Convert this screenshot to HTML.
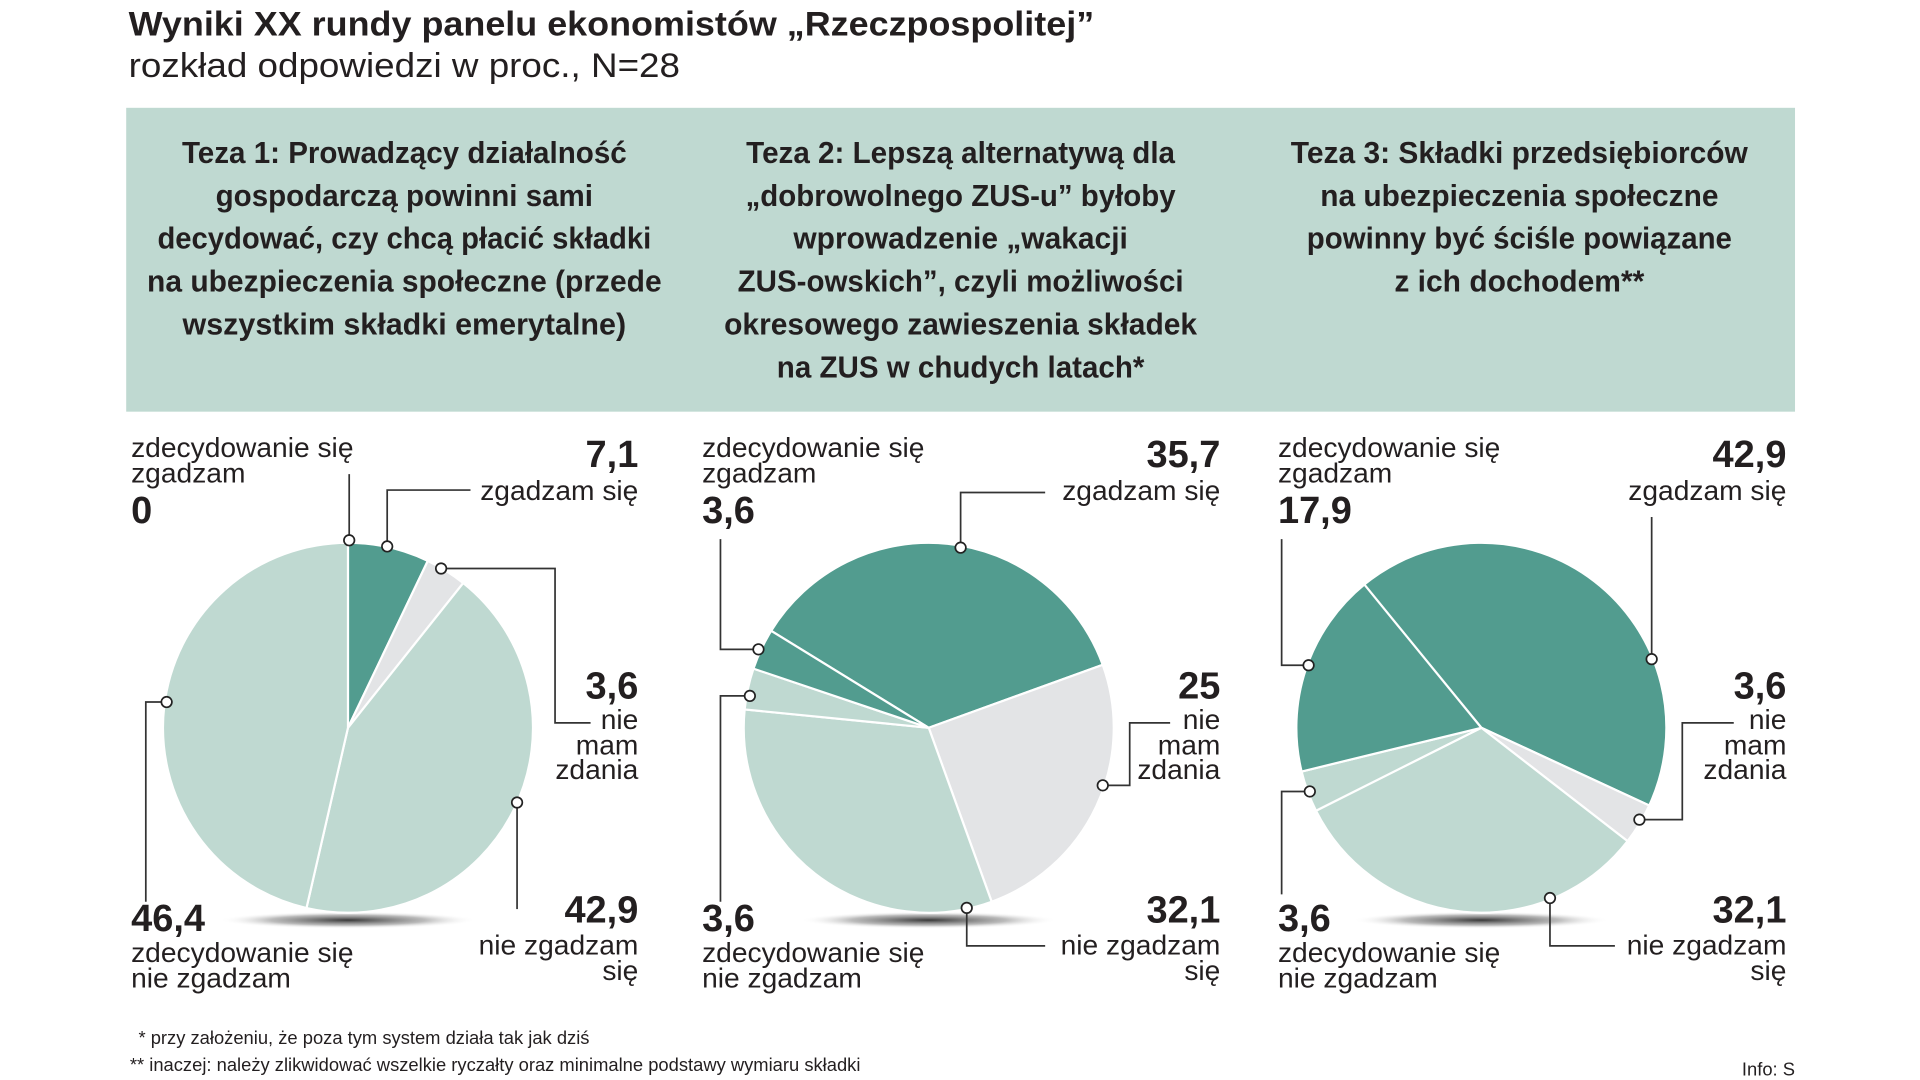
<!DOCTYPE html>
<html><head><meta charset="utf-8"><style>
html,body{margin:0;padding:0;background:#fff;}
svg{display:block;}
text{font-family:"Liberation Sans",sans-serif;fill:#231f20;}
.b{font-weight:bold;}
.lbl{font-size:23px;}
.num{font-size:31px;font-weight:bold;}
.th{font-size:25px;font-weight:bold;}
</style></head><body>
<svg id="chart" width="1920" height="1080" viewBox="0 0 1567 881.5" preserveAspectRatio="none" xmlns="http://www.w3.org/2000/svg">
<defs>
<radialGradient id="sh" cx="0.5" cy="0.5" r="0.5">
<stop offset="0" stop-color="#222" stop-opacity="0.9"/>
<stop offset="0.6" stop-color="#555" stop-opacity="0.4"/>
<stop offset="1" stop-color="#fff" stop-opacity="0"/>
</radialGradient>
</defs>
<text x="105" y="29" class="b" font-size="28" textLength="788" lengthAdjust="spacingAndGlyphs">Wyniki XX rundy panelu ekonomistów „Rzeczpospolitej”</text>
<text x="105" y="63" font-size="28" textLength="450" lengthAdjust="spacingAndGlyphs" fill="#333">rozkład odpowiedzi w proc., N=28</text>
<rect x="103" y="88" width="1362" height="248" fill="#bfd9d1"/>
<g class="th" text-anchor="middle">
<text x="330" y="133" textLength="363" lengthAdjust="spacingAndGlyphs">Teza 1: Prowadzący działalność</text>
<text x="330" y="168" textLength="308" lengthAdjust="spacingAndGlyphs">gospodarczą powinni sami</text>
<text x="330" y="203" textLength="403" lengthAdjust="spacingAndGlyphs">decydować, czy chcą płacić składki</text>
<text x="330" y="238" textLength="420" lengthAdjust="spacingAndGlyphs">na ubezpieczenia społeczne (przede</text>
<text x="330" y="273" textLength="362" lengthAdjust="spacingAndGlyphs">wszystkim składki emerytalne)</text>
</g>
<g class="th" text-anchor="middle">
<text x="784" y="133" textLength="350" lengthAdjust="spacingAndGlyphs">Teza 2: Lepszą alternatywą dla</text>
<text x="784" y="168" textLength="351" lengthAdjust="spacingAndGlyphs">„dobrowolnego ZUS-u” byłoby</text>
<text x="784" y="203" textLength="273" lengthAdjust="spacingAndGlyphs">wprowadzenie „wakacji</text>
<text x="784" y="238" textLength="364" lengthAdjust="spacingAndGlyphs">ZUS-owskich”, czyli możliwości</text>
<text x="784" y="273" textLength="386" lengthAdjust="spacingAndGlyphs">okresowego zawieszenia składek</text>
<text x="784" y="308" textLength="300" lengthAdjust="spacingAndGlyphs">na ZUS w chudych latach*</text>
</g>
<g class="th" text-anchor="middle">
<text x="1240" y="133" textLength="373" lengthAdjust="spacingAndGlyphs">Teza 3: Składki przedsiębiorców</text>
<text x="1240" y="168" textLength="325" lengthAdjust="spacingAndGlyphs">na ubezpieczenia społeczne</text>
<text x="1240" y="203" textLength="347" lengthAdjust="spacingAndGlyphs">powinny być ściśle powiązane</text>
<text x="1240" y="238" textLength="204" lengthAdjust="spacingAndGlyphs">z ich dochodem**</text>
</g>
<g id="pies"></g>
<g id="ann" stroke="#333" stroke-width="1.4" fill="none"></g>
<g id="labels"></g>
<text x="113" y="852" font-size="15" fill="#333">* przy założeniu, że poza tym system działa tak jak dziś</text>
<text x="106" y="874" font-size="15" fill="#333">** inaczej: należy zlikwidować wszelkie ryczałty oraz minimalne podstawy wymiaru składki</text>
<text x="1465" y="878" font-size="15" text-anchor="end" fill="#333">Info: S</text>
</svg>
<script>
// Series order: zgadzam się, nie mam zdania, nie zgadzam się, zdecydowanie się nie zgadzam, zdecydowanie się zgadzam
const categories = ["zgadzam się", "nie mam zdania", "nie zgadzam się", "zdecydowanie się nie zgadzam", "zdecydowanie się zgadzam"];
const teza1Values = [7.1, 3.6, 42.9, 46.4, 0];
const teza2Values = [35.7, 25, 32.1, 3.6, 3.6];
const teza3Values = [42.9, 3.6, 32.1, 3.6, 17.9];
const startAngles = [0, -58.4, -39.6];
const valueLabels1 = ["7,1", "3,6", "42,9", "46,4", "0"];
const valueLabels2 = ["35,7", "25", "32,1", "3,6", "3,6"];
const valueLabels3 = ["42,9", "3,6", "32,1", "3,6", "17,9"];

const allValues = [teza1Values, teza2Values, teza3Values];
const allLabels = [valueLabels1, valueLabels2, valueLabels3];
const colors = ["#529c8f", "#e3e4e6", "#bfd9d1", "#bfd9d1", "#529c8f"];
const centers = [284, 758, 1209];
const CY = 594, R = 151;
const NS = "http://www.w3.org/2000/svg";
function angle(pct, start){ return (start + pct * 3.6) * Math.PI / 180; }
function pt(cx, a){ return [cx + R * Math.sin(a), CY - R * Math.cos(a)]; }
function mk(tag, attrs, parent){ const e = document.createElementNS(NS, tag); for (const k in attrs) e.setAttribute(k, attrs[k]); parent.appendChild(e); return e; }

const pies = document.getElementById('pies');
allValues.forEach((vals, pi) => {
  const cx = centers[pi];
  const g = mk('g', {}, pies);
  
  
  const sh = mk('ellipse', {cx: cx, cy: 751, rx: 105, ry: 7, fill: 'url(#sh)'}, g);
  
  
  let cum = 0;
  vals.forEach((v, i) => {
    if (v <= 0) { cum += v; return; }
    const a0 = angle(cum, startAngles[pi]), a1 = angle(cum + v, startAngles[pi]);
    const p0 = pt(cx, a0), p1 = pt(cx, a1);
    const large = v > 50 ? 1 : 0;
    const p = mk('path', {d: `M${cx},${CY} L${p0[0]},${p0[1]} A${R},${R} 0 ${large} 1 ${p1[0]},${p1[1]} Z`, fill: colors[i], stroke: '#fff', 'stroke-width': 1.8, 'stroke-linejoin': 'round'}, g);
    
    
    cum += v;
  });
});

// Leader lines (annotation geometry)
const leaders = [
  [[285,387],[285,441]], [[384,400],[316,400],[316,446]], [[360,464],[453,464],[453,590],[482,590]],
  [[422,655],[422,742]], [[136,573],[119,573],[119,736]],
  [[588,440],[588,530],[619,530]], [[853,402],[784,402],[784,447]], [[955,590],[922,590],[922,641],[900,641]],
  [[789,741],[789,772],[853,772]], [[612,568],[588,568],[588,736]],
  [[1046,440],[1046,543],[1068,543]], [[1348,422],[1348,538]], [[1415,590],[1373,590],[1373,669],[1338,669]],
  [[1265,733],[1265,772],[1318,772]], [[1069,646],[1046,646],[1046,730]]
];
const markerIdx = [1,2,0,0,0, 2,2,3,0,0, 2,1,3,0,0];
const ann = document.getElementById('ann');
leaders.forEach((l, i) => {
  const pl = mk('polyline', {points: l.map(p => p.join(',')).join(' ')}, ann);
  
  
  const m = l[markerIdx[i] === 0 ? 0 : l.length - 1];
  const c = mk('circle', {cx: m[0], cy: m[1], r: 4.3, fill: '#fff', stroke: '#222', 'stroke-width': 1.4}, ann);
  
  
});

// Labels
const labels = document.getElementById('labels');
const leftX = [107, 573, 1043], rightX = [521, 996, 1458];
function txt(x, y, s, cls, anchor, name){
  const t = mk('text', {x: x, y: y, class: cls, 'text-anchor': anchor}, labels);
  t.textContent = s;
  
  
}
allLabels.forEach((L, pi) => {
  const lx = leftX[pi], rx = rightX[pi];
  txt(lx, 373, 'zdecydowanie się', 'lbl', 'start', 'label-strongly-agree');
  txt(lx, 394, 'zgadzam', 'lbl', 'start', 'label-strongly-agree');
  txt(lx, 427, L[4], 'num', 'start', 'value-strongly-agree');
  txt(rx, 381, L[0], 'num', 'end', 'value-agree');
  txt(rx, 408, 'zgadzam się', 'lbl', 'end', 'label-agree');
  txt(rx, 570, L[1], 'num', 'end', 'value-no-opinion');
  txt(rx, 595, 'nie', 'lbl', 'end', 'label-no-opinion');
  txt(rx, 616, 'mam', 'lbl', 'end', 'label-no-opinion');
  txt(rx, 636, 'zdania', 'lbl', 'end', 'label-no-opinion');
  txt(rx, 753, L[2], 'num', 'end', 'value-disagree');
  txt(rx, 779, 'nie zgadzam', 'lbl', 'end', 'label-disagree');
  txt(rx, 800, 'się', 'lbl', 'end', 'label-disagree');
  txt(lx, 760, L[3], 'num', 'start', 'value-strongly-disagree');
  txt(lx, 785, 'zdecydowanie się', 'lbl', 'start', 'label-strongly-disagree');
  txt(lx, 806, 'nie zgadzam', 'lbl', 'start', 'label-strongly-disagree');
});
</script>
</body></html>
